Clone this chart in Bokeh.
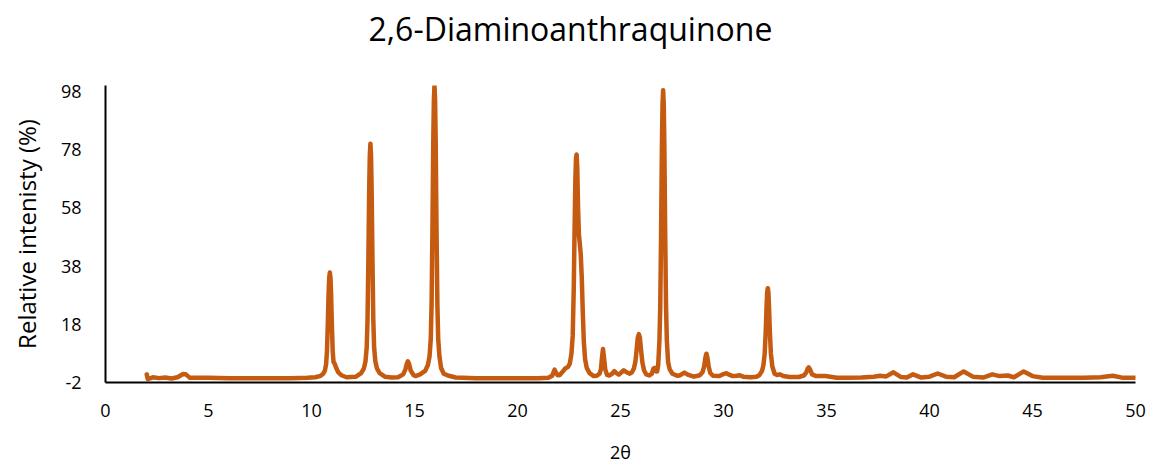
from bokeh.plotting import figure
from bokeh.models import FixedTicker, Range1d, Title
from bokeh.embed import file_html
from bokeh.resources import INLINE

# Powder XRD pattern of 2,6-diaminoanthraquinone: traced points (2θ in degrees, relative intensity in %)
two_theta = [
    2.00, 2.05, 2.30, 2.60, 2.90, 3.20, 3.50, 3.75, 3.90, 4.10, 5.00, 6.00, 7.00, 8.00, 9.00, 9.80,
    # ~10.9°
    10.19, 10.44, 10.57, 10.65, 10.71, 10.75, 10.79, 10.83, 10.86, 10.89, 10.92, 10.95, 10.99,
    11.03, 11.07, 11.12, 11.20, 11.30, 11.45, 11.70,
    # ~12.9°
    12.16, 12.41, 12.54, 12.62, 12.68, 12.72, 12.76, 12.80, 12.83, 12.86, 12.89, 12.92, 12.96,
    13.00, 13.04, 13.10, 13.18, 13.31, 13.56, 13.90,
    # ~14.7° and ~16.0°
    14.20, 14.45, 14.56, 14.63, 14.68, 14.73, 14.82, 14.95, 15.05,
    15.27, 15.52, 15.65, 15.73, 15.79, 15.83, 15.87, 15.91, 15.94, 15.97, 16.00, 16.03, 16.07,
    16.11, 16.15, 16.21, 16.29, 16.42, 16.67, 17.00, 18.00, 19.00, 20.00, 21.00, 21.50,
    # 21.8–23.5°
    21.68, 21.75, 21.80, 21.86, 21.95, 22.05, 22.20, 22.33, 22.45, 22.54, 22.62, 22.68, 22.73,
    22.77, 22.81, 22.84, 22.87, 22.90, 22.94, 22.98, 23.02, 23.07, 23.12, 23.17, 23.22, 23.28,
    23.36, 23.50, 23.70,
    # ~24.2° and small bumps
    23.85, 23.98, 24.05, 24.10, 24.15, 24.20, 24.26, 24.35, 24.45,
    24.58, 24.70, 24.80, 24.92, 25.05, 25.16, 25.30, 25.45,
    # ~25.9°
    25.55, 25.65, 25.72, 25.78, 25.84, 25.89, 25.94, 26.00, 26.06, 26.14, 26.25, 26.40,
    26.52, 26.60, 26.66, 26.74,
    # ~27.1°
    26.78, 26.83, 26.89, 26.93, 26.97, 27.01, 27.04, 27.07, 27.10, 27.13, 27.17, 27.21, 27.25,
    27.31, 27.39, 27.52, 27.77,
    # 28–31°
    27.90, 28.10, 28.30, 28.56, 28.85, 28.98, 29.06, 29.12, 29.17, 29.22, 29.28, 29.36, 29.50,
    29.80, 30.00, 30.14, 30.30, 30.45, 30.65, 30.79, 30.95, 31.30, 31.60,
    # ~32.2°
    31.75, 31.87, 31.94, 32.00, 32.05, 32.09, 32.12, 32.15, 32.18, 32.21, 32.25, 32.30, 32.37,
    32.48, 32.60, 32.73, 32.90, 33.20, 33.66,
    # ~34.1° and high-angle tail
    33.90, 34.02, 34.09, 34.14, 34.20, 34.30, 34.50, 34.95, 35.50, 36.00,
    36.70, 37.30, 37.60, 37.90, 38.25, 38.60, 38.90, 39.20, 39.60, 40.00, 40.40,
    40.80, 41.20, 41.66, 42.10, 42.60, 43.05, 43.40, 43.80, 44.10, 44.57, 45.00,
    45.50, 46.50, 47.50, 48.30, 48.90, 49.40, 50.00,
]
intensity = [
    0.8, -0.8, -0.2, -0.5, -0.3, -0.6, -0.2, 0.9, 0.8, -0.4, -0.4, -0.5, -0.5, -0.5, -0.5, -0.4,
    -0.2, 0.3, 1.0, 2.1, 4.3, 8.7, 17.7, 28.6, 34.0, 35.8, 34.0, 28.6, 17.7,
    8.7, 5.0, 4.5, 3.0, 1.5, 0.5, -0.2,
    0.0, 1.2, 2.8, 5.2, 10.0, 19.7, 39.8, 64.0, 76.0, 80.0, 76.0, 64.0, 39.8,
    19.7, 10.0, 5.2, 2.8, 1.2, 0.0, -0.3,
    -0.2, 0.8, 2.5, 4.5, 5.3, 4.5, 2.0, 0.6, 0.2,
    0.8, 2.0, 4.0, 7.0, 13.0, 25.0, 50.0, 80.0, 95.0, 100.0, 95.0, 80.0, 50.0,
    25.0, 13.0, 7.0, 3.0, 1.0, 0.3, -0.3, -0.5, -0.5, -0.5, -0.5, -0.4,
    0.3, 1.5, 2.4, 1.5, 0.5, 0.6, 1.8, 2.9, 3.3, 4.5, 8.0, 14.0, 30.0,
    50.0, 68.0, 75.0, 76.3, 72.0, 58.0, 49.0, 46.0, 42.0, 34.0, 22.0, 12.0, 6.0,
    3.0, 1.2, 0.2,
    0.3, 1.0, 2.5, 6.5, 9.5, 6.5, 2.5, 0.6, 0.4,
    0.9, 1.9, 1.2, 0.7, 1.5, 2.2, 1.5, 1.0,
    1.5, 2.8, 5.0, 9.0, 13.5, 14.6, 13.5, 9.0, 5.0, 2.2, 0.8, 0.4,
    1.0, 2.8, 3.0, 1.8,
    1.8, 4.0, 12.4, 24.0, 49.0, 79.0, 93.5, 98.4, 93.5, 79.0, 49.0, 24.0, 12.4,
    5.0, 2.5, 1.0, 0.3,
    0.5, 1.4, 0.6, 0.0, 0.5, 1.5, 3.5, 6.5, 7.9, 6.5, 3.5, 1.2, 0.3,
    0.2, 0.9, 1.2, 0.6, 0.2, 0.3, 0.5, 0.0, -0.2, 0.0,
    0.6, 2.0, 4.0, 8.0, 15.5, 24.0, 29.0, 30.4, 29.0, 24.0, 15.5, 8.0, 3.5,
    1.0, 0.6, 0.8, 0.2, -0.1, -0.1,
    0.4, 1.5, 2.8, 3.2, 2.5, 0.8, 0.2, 0.2, -0.4, -0.4,
    -0.3, 0.0, 0.3, 0.1, 1.5, -0.1, -0.3, 0.8, -0.3, 0.0, 1.1,
    0.0, -0.2, 1.8, 0.0, -0.3, 0.8, 0.2, 0.4, -0.2, 1.8, 0.2,
    -0.4, -0.4, -0.4, -0.2, 0.3, -0.4, -0.4,
]

x_ticks = [0, 5, 10, 15, 20, 25, 30, 35, 40, 45, 50]
y_ticks = [-2, 18, 38, 58, 78, 98]

FONT = "Open Sans"
LEFT, RIGHT, TOP, BOTTOM = 105, 17, 85, 85
TITLE_TEXT = "2,6-Diaminoanthraquinone"

p = figure(
    width=1152, height=467,
    output_backend="svg", toolbar_location=None,
    x_range=Range1d(0, 50), y_range=Range1d(-2, 100),
    min_border_left=LEFT, min_border_right=RIGHT,
    min_border_top=TOP, min_border_bottom=BOTTOM,
)
p.outline_line_color = None
p.background_fill_color = "white"
p.border_fill_color = "white"
p.grid.visible = False

# empty band between the plot area and the title, which lifts the title up
p.add_layout(Title(text=" ", text_font_size="1px", standoff=31), "above")
# title centred on the whole page rather than on the plot area
p.title = Title(text=TITLE_TEXT, align="left", offset=263, vertical_align="top",
                text_font=FONT, text_font_size="32px", text_font_style="normal",
                text_color="#000000", standoff=0)

p.line(two_theta, intensity, line_color="#C55A11", line_width=4.5,
       line_join="round", line_cap="round")

for ax in (p.xaxis[0], p.yaxis[0]):
    ax.axis_line_color = "black"
    ax.axis_line_width = 2
    ax.major_tick_line_color = None
    ax.minor_tick_line_color = None
    ax.major_tick_in = 0
    ax.major_tick_out = 0
    ax.major_label_text_font = FONT
    ax.major_label_text_font_size = "18px"
    ax.major_label_text_color = "#000000"
    ax.axis_label_text_font = FONT
    ax.axis_label_text_font_style = "normal"
    ax.axis_label_text_color = "#000000"

p.xaxis.ticker = FixedTicker(ticks=x_ticks)
p.yaxis.ticker = FixedTicker(ticks=y_ticks)
p.yaxis.major_label_overrides = {-2: "-2"}
p.xaxis.axis_label = "2θ"
p.yaxis.axis_label = "Relative intenisty (%)"
p.xaxis.axis_label_text_font_size = "18px"
p.yaxis.axis_label_text_font_size = "24px"
p.xaxis.major_label_standoff = 21
p.yaxis.major_label_standoff = 24
p.xaxis.axis_label_standoff = 20
p.yaxis.axis_label_standoff = 15

open("out.html", "w").write(file_html(p, INLINE))
